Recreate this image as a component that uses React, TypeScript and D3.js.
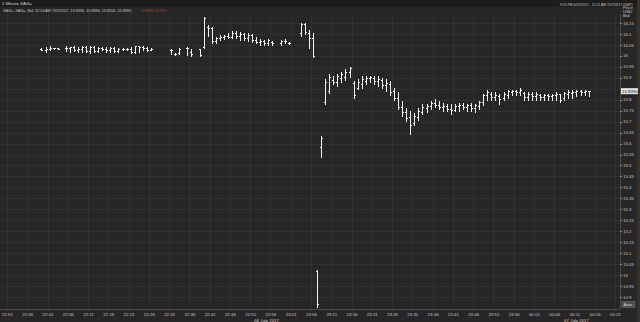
import React from "react";
import * as d3 from "d3";

// ---------- DATA ----------
const tickTimes = [
  "21:51","21:56","22:01","22:06","22:11","22:16","22:21","22:26","22:31","22:36",
  "22:41","22:46","22:51","22:56","23:01","23:06","23:11","23:16","23:21","23:26",
  "23:31","23:36","23:41","23:46","23:51","23:56","00:01","00:06","00:11","00:16","00:21",
];
const priceTicks = [16.15,16.1,16.05,16,15.95,15.9,15.85,15.8,15.75,15.7,15.65,15.6,15.55,15.5,15.45,15.4,15.35,15.3,15.25,15.2,15.15,15.1,15.05,15,14.95,14.9];

const barTimes = [
  "21:59","22:00","22:01","22:02","22:03",
  "22:05","22:06","22:07","22:08","22:09","22:10","22:11","22:12","22:13","22:14","22:15",
  "22:16","22:17","22:18","22:19","22:20","22:21","22:22","22:23","22:24","22:25","22:26",
  "22:31","22:32","22:33",
  "22:35","22:36",
  "22:38","22:39","22:40","22:41","22:42","22:43","22:44","22:45","22:46","22:47",
  "22:48","22:49","22:50","22:51","22:52","22:53","22:54","22:55","22:56",
  "22:58","22:59","23:00",
  "23:03","23:04","23:05","23:06","23:07","23:08","23:09","23:10","23:11","23:12",
  "23:13","23:14","23:15","23:16","23:17","23:18","23:19","23:20","23:21","23:22",
  "23:23","23:24","23:25","23:26","23:27","23:28","23:29","23:30","23:31","23:32",
  "23:33","23:34","23:35","23:36","23:37","23:38","23:39","23:40","23:41","23:42",
  "23:43","23:44","23:45","23:46","23:47","23:48","23:49","23:50","23:51","23:52",
  "23:53","23:54","23:55","23:56","23:57","23:58","23:59",
  "00:00","00:01","00:02","00:03","00:04","00:05","00:06","00:07","00:08","00:09",
  "00:10","00:11","00:12","00:13","00:14",
];
const opens = [
  16.031,16.027,16.031,16.034,16.034,
  16.038,16.036,16.040,16.027,16.031,16.041,16.022,16.040,16.022,16.036,16.031,
  16.027,16.036,16.022,16.031,16.031,16.032,16.018,16.043,16.040,16.036,16.027,
  16.027,16.009,16.011,
  16.036,16.018,
  16.031,16.041,16.134,16.127,16.068,16.082,16.084,16.091,16.086,16.104,
  16.091,16.100,16.082,16.095,16.072,16.063,16.068,16.059,16.063,
  16.059,16.068,16.059,
  16.104,16.145,16.104,16.082,15.020,15.584,15.790,15.840,15.890,15.881,
  15.899,15.904,15.926,15.876,15.853,15.872,15.885,15.899,15.899,15.885,
  15.890,15.867,15.872,15.840,15.808,15.767,15.744,15.721,15.694,15.721,
  15.744,15.762,15.771,15.785,15.776,15.767,15.771,15.758,15.753,15.771,
  15.776,15.767,15.776,15.762,15.771,15.790,15.822,15.826,15.812,15.817,
  15.808,15.822,15.835,15.840,15.835,15.831,15.812,
  15.826,15.817,15.822,15.812,15.822,15.817,15.822,15.826,15.808,15.826,
  15.831,15.835,15.840,15.835,15.839,
];
const highs = [
  16.033,16.036,16.041,16.035,16.035,
  16.041,16.040,16.041,16.036,16.045,16.043,16.045,16.041,16.038,16.040,16.036,
  16.038,16.038,16.033,16.033,16.034,16.036,16.045,16.045,16.041,16.038,16.033,
  16.029,16.011,16.034,
  16.036,16.027,
  16.031,16.177,16.138,16.129,16.086,16.093,16.095,16.100,16.109,16.113,
  16.107,16.104,16.100,16.098,16.086,16.075,16.072,16.075,16.066,
  16.070,16.075,16.061,
  16.148,16.150,16.118,16.104,15.023,15.634,15.890,15.913,15.904,15.917,
  15.926,15.936,15.949,15.881,15.890,15.904,15.908,15.908,15.904,15.904,
  15.895,15.890,15.881,15.849,15.835,15.790,15.758,15.744,15.735,15.758,
  15.776,15.780,15.794,15.799,15.794,15.785,15.780,15.776,15.780,15.785,
  15.785,15.780,15.785,15.780,15.794,15.826,15.844,15.831,15.831,15.822,
  15.831,15.844,15.844,15.844,15.849,15.835,15.835,
  15.831,15.831,15.826,15.826,15.826,15.826,15.831,15.826,15.835,15.840,
  15.840,15.844,15.844,15.844,15.839,
];
const lows = [
  16.027,16.022,16.027,16.033,16.032,
  16.024,16.022,16.024,16.018,16.022,16.018,16.016,16.018,16.018,16.027,16.020,
  16.018,16.020,16.022,16.029,16.030,16.016,16.016,16.022,16.027,16.024,16.027,
  16.011,16.007,16.009,
  16.006,16.000,
  16.004,16.040,16.091,16.061,16.063,16.077,16.079,16.082,16.084,16.082,
  16.077,16.075,16.072,16.066,16.061,16.054,16.052,16.054,16.052,
  16.054,16.059,16.057,
  16.095,16.100,16.036,15.995,14.857,15.539,15.781,15.835,15.872,15.867,
  15.881,15.890,15.904,15.812,15.849,15.858,15.872,15.881,15.872,15.867,
  15.858,15.844,15.826,15.803,15.758,15.730,15.707,15.648,15.689,15.712,
  15.735,15.744,15.758,15.767,15.758,15.753,15.749,15.739,15.749,15.753,
  15.758,15.753,15.753,15.744,15.758,15.780,15.803,15.803,15.799,15.785,
  15.803,15.812,15.822,15.822,15.822,15.803,15.803,
  15.803,15.803,15.803,15.803,15.803,15.803,15.803,15.794,15.803,15.808,
  15.812,15.817,15.822,15.822,15.820,
];
const closes = [
  16.029,16.031,16.036,16.034,16.033,
  16.036,16.040,16.027,16.031,16.041,16.022,16.040,16.022,16.036,16.031,16.027,
  16.036,16.022,16.031,16.031,16.032,16.018,16.043,16.040,16.036,16.027,16.031,
  16.025,16.009,16.031,
  16.034,16.009,
  16.006,16.173,16.127,16.068,16.082,16.084,16.091,16.086,16.104,16.091,
  16.100,16.082,16.095,16.072,16.063,16.068,16.059,16.072,16.059,
  16.068,16.070,16.059,
  16.145,16.109,16.082,16.000,14.870,15.625,15.880,15.904,15.881,15.908,
  15.917,15.926,15.945,15.822,15.881,15.895,15.899,15.904,15.885,15.895,
  15.867,15.876,15.835,15.808,15.767,15.744,15.717,15.685,15.726,15.749,
  15.767,15.771,15.785,15.776,15.767,15.771,15.758,15.753,15.771,15.776,
  15.767,15.776,15.762,15.776,15.790,15.822,15.835,15.812,15.822,15.803,
  15.826,15.840,15.840,15.835,15.844,15.812,15.826,
  15.817,15.826,15.812,15.822,15.817,15.822,15.826,15.799,15.831,15.835,
  15.835,15.840,15.835,15.840,15.839,
];
const lastPrice = 15.839;

// ---------- HELPERS ----------
const parseClock = (s: string) => {
  const day = +s.slice(0, 2) >= 12 ? "2017-07-06" : "2017-07-07";
  return d3.timeParse("%Y-%m-%d %H:%M")(`${day} ${s}`) as Date;
};

const W = 640, H = 322;
const plotRight = 620, plotTop = 14, plotBottom = 309;
const FONT = "'Liberation Sans', Arial, sans-serif";

export default function App() {
  const x = d3.scaleTime()
    .domain([parseClock("21:51"), parseClock("00:21")])
    .range([7, 615]);
  const y = d3.scaleLinear().domain([14.9, 16.15]).range([297, 23]);

  const bars = barTimes.map((t, i) => ({
    t: d3.timeSecond.offset(parseClock(t), 30),
    o: opens[i], h: highs[i], l: lows[i], c: closes[i],
  }));
  const px = (v: number) => Math.round(v) + 0.5;
  const tk = 1.6;
  const fmt = (v: number) => String(+v.toFixed(2));

  return (
    <div style={{ position: "fixed", left: 0, top: 0, width: W, height: H }}>
      <svg width={W} height={H} style={{ display: "block", background: "#262626" }} fontFamily={FONT}>
        <rect x={0} y={0} width={W} height={H} fill="#262626" />
        <rect x={0} y={0} width={W} height={7} fill="#1c1c1c" />
        <rect x={637} y={0} width={3} height={H} fill="#3b3128" />

        {/* grid */}
        <g stroke="#313131" strokeWidth={1} shapeRendering="crispEdges">
          {priceTicks.map((v) => (
            <line key={"h" + v} x1={0} x2={plotRight} y1={px(y(v))} y2={px(y(v))} />
          ))}
          {tickTimes.map((t) => (
            <line key={"v" + t} x1={px(x(parseClock(t)))} x2={px(x(parseClock(t)))} y1={plotTop} y2={plotBottom} />
          ))}
        </g>

        {/* axes lines */}
        <g stroke="#4a4a4a" strokeWidth={1} shapeRendering="crispEdges">
          <line x1={plotRight + 0.5} x2={plotRight + 0.5} y1={plotTop} y2={plotBottom} />
          <line x1={0} x2={plotRight} y1={plotBottom + 0.5} y2={plotBottom + 0.5} />
        </g>

        {/* y axis */}
        <g fontSize={4.4} fill="#c8c8c8">
          {priceTicks
            .filter((v) => Math.abs(y(v) - y(lastPrice)) > 4)
            .map((v) => (
              <g key={"yt" + v}>
                <line x1={plotRight} x2={plotRight + 2} y1={px(y(v))} y2={px(y(v))} stroke="#8a8a8a" strokeWidth={1} shapeRendering="crispEdges" />
                <text x={623} y={y(v) + 1.6}>{fmt(v)}</text>
              </g>
            ))}
          <text x={623} y={9}>Price</text>
          <text x={623} y={13.2}>USD</text>
          <text x={623} y={17.4}>Bid</text>
        </g>
        <rect x={621} y={y(lastPrice) - 3} width={17} height={6} fill="#e6e6e6" />
        <text x={622} y={y(lastPrice) + 1.6} fontSize={4.4} fill="#111">{lastPrice.toFixed(4)}</text>
        <rect x={622} y={301.5} width={13} height={6} fill="#4d4d4d" stroke="#777" strokeWidth={0.5} />
        <text x={623.5} y={306} fontSize={4.2} fill="#ddd">Auto</text>

        {/* x axis */}
        <g fontSize={4.4} fill="#c8c8c8" textAnchor="middle">
          {tickTimes.map((t) => (
            <text key={"xt" + t} x={x(parseClock(t)) + 0.5} y={316}>{t}</text>
          ))}
        </g>
        <g fontSize={4.4} fill="#d0d0d0" textAnchor="end">
          <text x={279} y={321.5}>06 July 2017</text>
          <text x={589} y={321.5}>07 July 2017</text>
        </g>

        {/* header */}
        <text x={2} y={5} fontSize={4.4} fill="#d8d8d8">1 Minute XAG=</text>
        <text x={3} y={11.8} fontSize={3.75} fill="#c8c8c8">
          XAG=, XAG=, Bid, 12:14 AM 7/07/2017, 15.8390, 15.8390, 15.8200, 15.8390,
        </text>
        <text x={141} y={11.8} fontSize={3.75} fill="#d23a2a">
          -0.0830 -0.52%
        </text>
        <text x={560} y={5.5} fontSize={3.4} fill="#c8c8c8">
          9:51 PM 6/07/2017 - 12:21 AM 7/07/2017 (GMT)
        </text>

        {/* OHLC bars */}
        <g stroke="#f2f2f2" strokeWidth={1} shapeRendering="crispEdges">
          {bars.map((b, i) => {
            const cx = px(x(b.t));
            const yo = px(y(b.o)), yc = px(y(b.c));
            const yh = y(b.h), yl = y(b.l);
            return (
              <g key={i}>
                <line x1={cx} x2={cx} y1={Math.floor(yh)} y2={Math.ceil(yl) + 1} />
                <line x1={cx - tk} x2={cx} y1={yo} y2={yo} />
                <line x1={cx} x2={cx + tk} y1={yc} y2={yc} />
              </g>
            );
          })}
        </g>
      </svg>
    </div>
  );
}
